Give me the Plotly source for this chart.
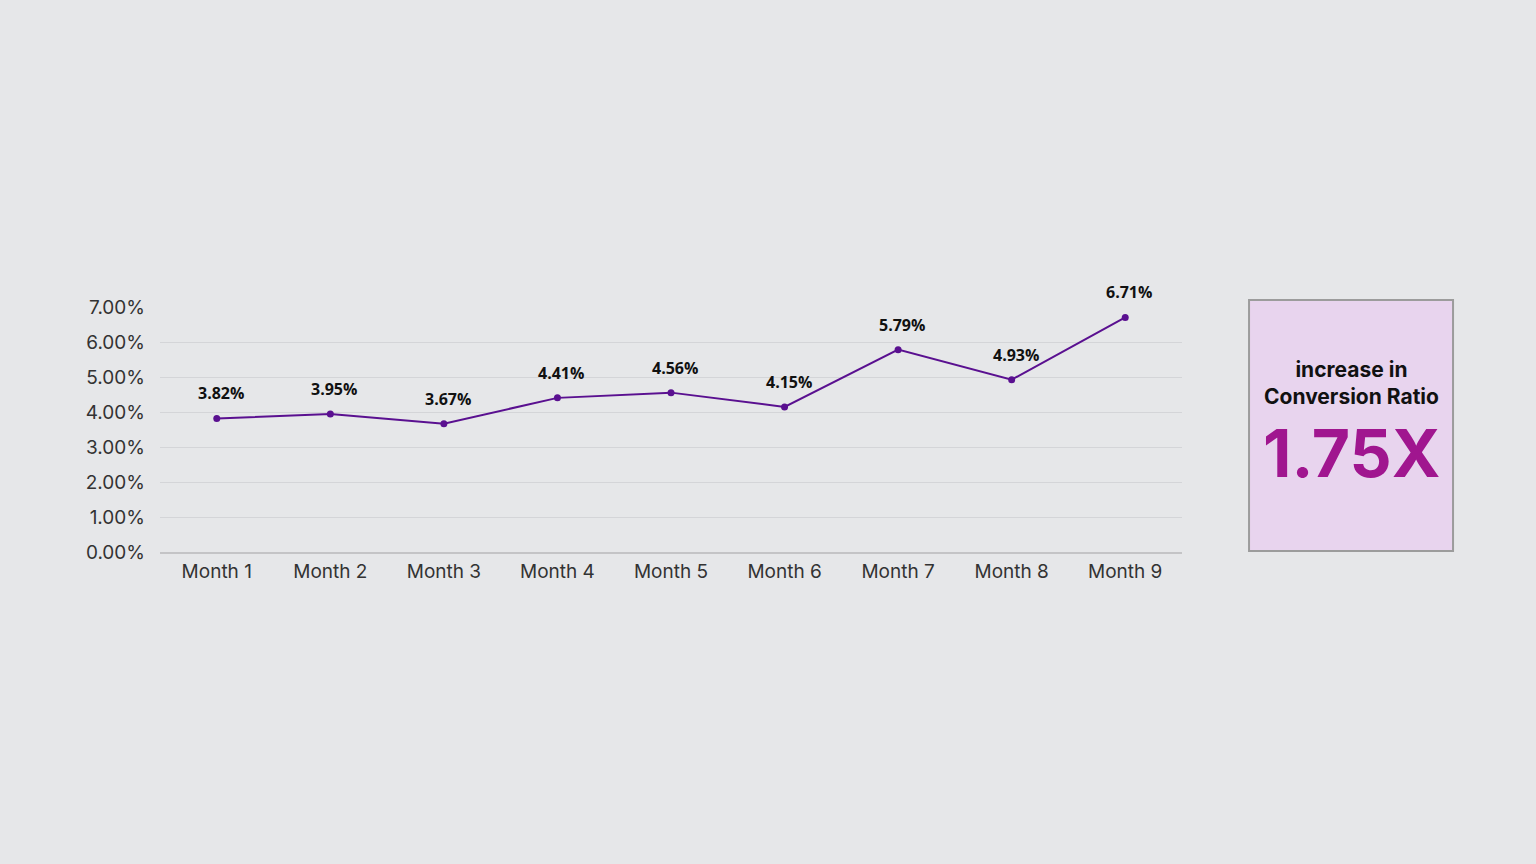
import plotly.graph_objects as go

# data
months = ["Month 1", "Month 2", "Month 3", "Month 4", "Month 5",
          "Month 6", "Month 7", "Month 8", "Month 9"]
conversion = [3.82, 3.95, 3.67, 4.41, 4.56, 4.15, 5.79, 4.93, 6.71]
y_ticks = [0, 1, 2, 3, 4, 5, 6, 7]
y_tick_labels = ["%.2f%%" % v for v in y_ticks]
box_caption = ["increase in", "Conversion Ratio"]
box_value = "1.75X"

bg = "#e6e7e9"
purple = "#5a1090"

fig = go.Figure()
fig.add_trace(go.Scatter(
    x=months, y=conversion,
    mode="lines+markers",
    line=dict(color=purple, width=2),
    marker=dict(color=purple, size=7),
    hoverinfo="skip",
))

# value labels above the points
for m, v in zip(months, conversion):
    fig.add_annotation(
        x=m, y=v, text="<b>%.2f%%</b>" % v, showarrow=False,
        yshift=25, xshift=4,
        font=dict(family="Open Sans", size=16, color="#111111"),
    )

# side box
fig.add_shape(type="rect", xref="paper", yref="paper",
              x0=1.0656, x1=1.2652, y0=0.004, y1=1.029,
              fillcolor="#e8d4ee", line=dict(color="#9c9c9c", width=2))
fig.add_annotation(xref="paper", yref="paper", x=1.1654, y=0.69,
                   xanchor="center", yanchor="middle",
                   text="<br>".join("<b>%s</b>" % s for s in box_caption),
                   showarrow=False, align="center",
                   font=dict(family="Inter", size=21, color="#111111"))
fig.add_annotation(xref="paper", yref="paper", x=1.1654, y=0.405,
                   xanchor="center", yanchor="middle",
                   text="<b>" + box_value + "</b>", showarrow=False,
                   font=dict(family="Inter", size=66, color="#a0168f"))

fig.update_xaxes(
    type="category", range=[-0.5, 8.5],
    showgrid=False, showline=True, linecolor="#c4c4c6", linewidth=2,
    ticks="", tickfont=dict(family="Inter", size=19, color="#333333"),
    ticklabelstandoff=1,
)
fig.update_yaxes(
    range=[0, 7.01], tickvals=y_ticks, ticktext=y_tick_labels,
    showgrid=True, gridcolor="#d4d5d8", gridwidth=1, zeroline=False,
    ticks="", tickfont=dict(family="Inter", size=19, color="#333333"),
    ticklabelstandoff=14,
)
fig.update_layout(
    width=1536, height=864,
    paper_bgcolor=bg, plot_bgcolor=bg,
    margin=dict(l=160, r=354, t=307, b=312),
    showlegend=False,
)

fig.write_html("out.html", config={"displayModeBar": False},
               post_script="document.body.style.margin='0';")
